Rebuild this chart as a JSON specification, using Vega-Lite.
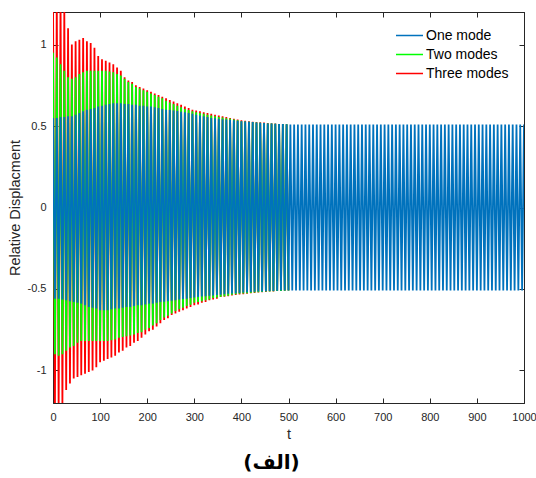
{
"$schema":"https://vega.github.io/schema/vega-lite/v6.json",
"width":471,"height":391,
"autosize":"none",
"padding":{"left":53,"top":12,"right":12,"bottom":75},
"background":"white",
"config":{"font":"Liberation Sans","view":{"stroke":"#262626","strokeWidth":1},
"axis":{"grid":false,"domainColor":"#262626","tickColor":"#262626","tickSize":-5,"labelPadding":12,"labelColor":"#262626","labelFontSize":11,"labelFont":"Liberation Sans","labelFlush":false,"labelOverlap":false,"titleColor":"#262626","titleFontSize":14.5,"titleFontWeight":"normal","titleFont":"Liberation Sans"}},
"title":{"text":"(الف)","orient":"bottom","font":"DejaVu Sans","fontSize":20,"fontWeight":"bold","color":"black","offset":12,"anchor":"middle","dx":-17},
"datasets":{"d":[
{"s":"Three modes","t":0,"y":1.3},{"s":"Three modes","t":4,"y":-1.3},{"s":"Three modes","t":8,"y":1.28},{"s":"Three modes","t":12,"y":-1.25},{"s":"Three modes","t":16,"y":1.3},{"s":"Three modes","t":20,"y":-1.22},{"s":"Three modes","t":24,"y":1.22},{"s":"Three modes","t":28,"y":-1.12},{"s":"Three modes","t":32,"y":1.1},{"s":"Three modes","t":36,"y":-1.08},{"s":"Three modes","t":40,"y":1.0},{"s":"Three modes","t":44,"y":-1.05},{"s":"Three modes","t":48,"y":1.02},{"s":"Three modes","t":52,"y":-1.04},{"s":"Three modes","t":56,"y":1.03},{"s":"Three modes","t":60,"y":-1.03},{"s":"Three modes","t":64,"y":1.04},{"s":"Three modes","t":68,"y":-1.02},{"s":"Three modes","t":72,"y":1.02},{"s":"Three modes","t":76,"y":-1.01},{"s":"Three modes","t":80,"y":1.01},{"s":"Three modes","t":84,"y":-1.0},{"s":"Three modes","t":88,"y":0.98},{"s":"Three modes","t":92,"y":-0.98},{"s":"Three modes","t":96,"y":0.93},{"s":"Three modes","t":100,"y":-0.95},{"s":"Three modes","t":104,"y":0.91},{"s":"Three modes","t":108,"y":-0.94},{"s":"Three modes","t":112,"y":0.9},{"s":"Three modes","t":116,"y":-0.93},{"s":"Three modes","t":120,"y":0.89},{"s":"Three modes","t":124,"y":-0.92},{"s":"Three modes","t":128,"y":0.88},{"s":"Three modes","t":132,"y":-0.91},{"s":"Three modes","t":136,"y":0.86},{"s":"Three modes","t":140,"y":-0.89},{"s":"Three modes","t":144,"y":0.84},{"s":"Three modes","t":148,"y":-0.88},{"s":"Three modes","t":152,"y":0.8},{"s":"Three modes","t":156,"y":-0.86},{"s":"Three modes","t":160,"y":0.78},{"s":"Three modes","t":164,"y":-0.85},{"s":"Three modes","t":168,"y":0.77},{"s":"Three modes","t":172,"y":-0.83},{"s":"Three modes","t":176,"y":0.75},{"s":"Three modes","t":180,"y":-0.82},{"s":"Three modes","t":184,"y":0.74},{"s":"Three modes","t":188,"y":-0.8},{"s":"Three modes","t":192,"y":0.73},{"s":"Three modes","t":196,"y":-0.78},{"s":"Three modes","t":200,"y":0.72},{"s":"Three modes","t":204,"y":-0.76},{"s":"Three modes","t":208,"y":0.71},{"s":"Three modes","t":212,"y":-0.75},{"s":"Three modes","t":216,"y":0.7},{"s":"Three modes","t":220,"y":-0.73},{"s":"Three modes","t":224,"y":0.69},{"s":"Three modes","t":228,"y":-0.71},{"s":"Three modes","t":232,"y":0.68},{"s":"Three modes","t":236,"y":-0.69},{"s":"Three modes","t":240,"y":0.67},{"s":"Three modes","t":244,"y":-0.68},{"s":"Three modes","t":248,"y":0.66},{"s":"Three modes","t":252,"y":-0.66},{"s":"Three modes","t":256,"y":0.65},{"s":"Three modes","t":260,"y":-0.65},{"s":"Three modes","t":264,"y":0.64},{"s":"Three modes","t":268,"y":-0.64},{"s":"Three modes","t":272,"y":0.63},{"s":"Three modes","t":276,"y":-0.63},{"s":"Three modes","t":280,"y":0.62},{"s":"Three modes","t":284,"y":-0.62},{"s":"Three modes","t":288,"y":0.61},{"s":"Three modes","t":292,"y":-0.61},{"s":"Three modes","t":296,"y":0.6},{"s":"Three modes","t":300,"y":-0.6},{"s":"Three modes","t":304,"y":0.595},{"s":"Three modes","t":308,"y":-0.595},{"s":"Three modes","t":312,"y":0.59},{"s":"Three modes","t":316,"y":-0.585},{"s":"Three modes","t":320,"y":0.585},{"s":"Three modes","t":324,"y":-0.58},{"s":"Three modes","t":328,"y":0.58},{"s":"Three modes","t":332,"y":-0.57},{"s":"Three modes","t":336,"y":0.575},{"s":"Three modes","t":340,"y":-0.565},{"s":"Three modes","t":344,"y":0.57},{"s":"Three modes","t":348,"y":-0.56},{"s":"Three modes","t":352,"y":0.565},{"s":"Three modes","t":356,"y":-0.55},{"s":"Three modes","t":360,"y":0.56},{"s":"Three modes","t":364,"y":-0.548},{"s":"Three modes","t":368,"y":0.555},{"s":"Three modes","t":372,"y":-0.545},{"s":"Three modes","t":376,"y":0.55},{"s":"Three modes","t":380,"y":-0.54},{"s":"Three modes","t":384,"y":0.545},{"s":"Three modes","t":388,"y":-0.537},{"s":"Three modes","t":392,"y":0.54},{"s":"Three modes","t":396,"y":-0.534},{"s":"Three modes","t":400,"y":0.535},{"s":"Three modes","t":404,"y":-0.532},{"s":"Three modes","t":408,"y":0.532},{"s":"Three modes","t":412,"y":-0.53},{"s":"Three modes","t":416,"y":0.53},{"s":"Three modes","t":420,"y":-0.527},{"s":"Three modes","t":424,"y":0.527},{"s":"Three modes","t":428,"y":-0.525},{"s":"Three modes","t":432,"y":0.525},{"s":"Three modes","t":436,"y":-0.522},{"s":"Three modes","t":440,"y":0.523},{"s":"Three modes","t":444,"y":-0.52},{"s":"Three modes","t":448,"y":0.521},{"s":"Three modes","t":452,"y":-0.518},{"s":"Three modes","t":456,"y":0.519},{"s":"Three modes","t":460,"y":-0.516},{"s":"Three modes","t":464,"y":0.517},{"s":"Three modes","t":468,"y":-0.515},{"s":"Three modes","t":472,"y":0.515},{"s":"Three modes","t":476,"y":-0.513},{"s":"Three modes","t":480,"y":0.513},{"s":"Three modes","t":484,"y":-0.512},{"s":"Three modes","t":488,"y":0.512},{"s":"Three modes","t":492,"y":-0.511},{"s":"Three modes","t":496,"y":0.511},{"s":"Three modes","t":500,"y":-0.51},
{"s":"Two modes","t":0,"y":0.95},{"s":"Two modes","t":4,"y":-0.9},{"s":"Two modes","t":8,"y":0.92},{"s":"Two modes","t":12,"y":-0.91},{"s":"Two modes","t":16,"y":0.88},{"s":"Two modes","t":20,"y":-0.9},{"s":"Two modes","t":24,"y":0.84},{"s":"Two modes","t":28,"y":-0.88},{"s":"Two modes","t":32,"y":0.8},{"s":"Two modes","t":36,"y":-0.86},{"s":"Two modes","t":40,"y":0.79},{"s":"Two modes","t":44,"y":-0.85},{"s":"Two modes","t":48,"y":0.8},{"s":"Two modes","t":52,"y":-0.83},{"s":"Two modes","t":56,"y":0.82},{"s":"Two modes","t":60,"y":-0.82},{"s":"Two modes","t":64,"y":0.83},{"s":"Two modes","t":68,"y":-0.82},{"s":"Two modes","t":72,"y":0.84},{"s":"Two modes","t":76,"y":-0.82},{"s":"Two modes","t":80,"y":0.84},{"s":"Two modes","t":84,"y":-0.82},{"s":"Two modes","t":88,"y":0.84},{"s":"Two modes","t":92,"y":-0.82},{"s":"Two modes","t":96,"y":0.84},{"s":"Two modes","t":100,"y":-0.82},{"s":"Two modes","t":104,"y":0.84},{"s":"Two modes","t":108,"y":-0.82},{"s":"Two modes","t":112,"y":0.84},{"s":"Two modes","t":116,"y":-0.82},{"s":"Two modes","t":120,"y":0.835},{"s":"Two modes","t":124,"y":-0.815},{"s":"Two modes","t":128,"y":0.83},{"s":"Two modes","t":132,"y":-0.81},{"s":"Two modes","t":136,"y":0.82},{"s":"Two modes","t":140,"y":-0.8},{"s":"Two modes","t":144,"y":0.81},{"s":"Two modes","t":148,"y":-0.795},{"s":"Two modes","t":152,"y":0.79},{"s":"Two modes","t":156,"y":-0.79},{"s":"Two modes","t":160,"y":0.77},{"s":"Two modes","t":164,"y":-0.785},{"s":"Two modes","t":168,"y":0.76},{"s":"Two modes","t":172,"y":-0.78},{"s":"Two modes","t":176,"y":0.74},{"s":"Two modes","t":180,"y":-0.77},{"s":"Two modes","t":184,"y":0.73},{"s":"Two modes","t":188,"y":-0.765},{"s":"Two modes","t":192,"y":0.72},{"s":"Two modes","t":196,"y":-0.75},{"s":"Two modes","t":200,"y":0.71},{"s":"Two modes","t":204,"y":-0.74},{"s":"Two modes","t":208,"y":0.7},{"s":"Two modes","t":212,"y":-0.725},{"s":"Two modes","t":216,"y":0.69},{"s":"Two modes","t":220,"y":-0.71},{"s":"Two modes","t":224,"y":0.68},{"s":"Two modes","t":228,"y":-0.69},{"s":"Two modes","t":232,"y":0.67},{"s":"Two modes","t":236,"y":-0.675},{"s":"Two modes","t":240,"y":0.655},{"s":"Two modes","t":244,"y":-0.665},{"s":"Two modes","t":248,"y":0.645},{"s":"Two modes","t":252,"y":-0.65},{"s":"Two modes","t":256,"y":0.635},{"s":"Two modes","t":260,"y":-0.635},{"s":"Two modes","t":264,"y":0.625},{"s":"Two modes","t":268,"y":-0.625},{"s":"Two modes","t":272,"y":0.615},{"s":"Two modes","t":276,"y":-0.615},{"s":"Two modes","t":280,"y":0.605},{"s":"Two modes","t":284,"y":-0.605},{"s":"Two modes","t":288,"y":0.598},{"s":"Two modes","t":292,"y":-0.597},{"s":"Two modes","t":296,"y":0.59},{"s":"Two modes","t":300,"y":-0.585},{"s":"Two modes","t":304,"y":0.585},{"s":"Two modes","t":308,"y":-0.58},{"s":"Two modes","t":312,"y":0.58},{"s":"Two modes","t":316,"y":-0.575},{"s":"Two modes","t":320,"y":0.575},{"s":"Two modes","t":324,"y":-0.57},{"s":"Two modes","t":328,"y":0.57},{"s":"Two modes","t":332,"y":-0.565},{"s":"Two modes","t":336,"y":0.565},{"s":"Two modes","t":340,"y":-0.555},{"s":"Two modes","t":344,"y":0.56},{"s":"Two modes","t":348,"y":-0.552},{"s":"Two modes","t":352,"y":0.555},{"s":"Two modes","t":356,"y":-0.548},{"s":"Two modes","t":360,"y":0.552},{"s":"Two modes","t":364,"y":-0.545},{"s":"Two modes","t":368,"y":0.548},{"s":"Two modes","t":372,"y":-0.542},{"s":"Two modes","t":376,"y":0.545},{"s":"Two modes","t":380,"y":-0.535},{"s":"Two modes","t":384,"y":0.54},{"s":"Two modes","t":388,"y":-0.532},{"s":"Two modes","t":392,"y":0.535},{"s":"Two modes","t":396,"y":-0.53},{"s":"Two modes","t":400,"y":0.53},{"s":"Two modes","t":404,"y":-0.528},{"s":"Two modes","t":408,"y":0.528},{"s":"Two modes","t":412,"y":-0.526},{"s":"Two modes","t":416,"y":0.526},{"s":"Two modes","t":420,"y":-0.524},{"s":"Two modes","t":424,"y":0.524},{"s":"Two modes","t":428,"y":-0.522},{"s":"Two modes","t":432,"y":0.522},{"s":"Two modes","t":436,"y":-0.52},{"s":"Two modes","t":440,"y":0.52},{"s":"Two modes","t":444,"y":-0.518},{"s":"Two modes","t":448,"y":0.518},{"s":"Two modes","t":452,"y":-0.516},{"s":"Two modes","t":456,"y":0.516},{"s":"Two modes","t":460,"y":-0.515},{"s":"Two modes","t":464,"y":0.515},{"s":"Two modes","t":468,"y":-0.514},{"s":"Two modes","t":472,"y":0.514},{"s":"Two modes","t":476,"y":-0.513},{"s":"Two modes","t":480,"y":0.513},{"s":"Two modes","t":484,"y":-0.512},{"s":"Two modes","t":488,"y":0.512},{"s":"Two modes","t":492,"y":-0.511},{"s":"Two modes","t":496,"y":0.511},{"s":"Two modes","t":500,"y":-0.51},
{"s":"One mode","t":0,"y":0.55},{"s":"One mode","t":4,"y":-0.56},{"s":"One mode","t":8,"y":0.55},{"s":"One mode","t":12,"y":-0.56},{"s":"One mode","t":16,"y":0.555},{"s":"One mode","t":20,"y":-0.565},{"s":"One mode","t":24,"y":0.555},{"s":"One mode","t":28,"y":-0.57},{"s":"One mode","t":32,"y":0.56},{"s":"One mode","t":36,"y":-0.575},{"s":"One mode","t":40,"y":0.56},{"s":"One mode","t":44,"y":-0.58},{"s":"One mode","t":48,"y":0.57},{"s":"One mode","t":52,"y":-0.585},{"s":"One mode","t":56,"y":0.58},{"s":"One mode","t":60,"y":-0.59},{"s":"One mode","t":64,"y":0.59},{"s":"One mode","t":68,"y":-0.6},{"s":"One mode","t":72,"y":0.6},{"s":"One mode","t":76,"y":-0.61},{"s":"One mode","t":80,"y":0.605},{"s":"One mode","t":84,"y":-0.615},{"s":"One mode","t":88,"y":0.61},{"s":"One mode","t":92,"y":-0.62},{"s":"One mode","t":96,"y":0.62},{"s":"One mode","t":100,"y":-0.63},{"s":"One mode","t":104,"y":0.625},{"s":"One mode","t":108,"y":-0.63},{"s":"One mode","t":112,"y":0.63},{"s":"One mode","t":116,"y":-0.63},{"s":"One mode","t":120,"y":0.635},{"s":"One mode","t":124,"y":-0.625},{"s":"One mode","t":128,"y":0.64},{"s":"One mode","t":132,"y":-0.62},{"s":"One mode","t":136,"y":0.64},{"s":"One mode","t":140,"y":-0.62},{"s":"One mode","t":144,"y":0.64},{"s":"One mode","t":148,"y":-0.615},{"s":"One mode","t":152,"y":0.635},{"s":"One mode","t":156,"y":-0.61},{"s":"One mode","t":160,"y":0.635},{"s":"One mode","t":164,"y":-0.61},{"s":"One mode","t":168,"y":0.63},{"s":"One mode","t":172,"y":-0.605},{"s":"One mode","t":176,"y":0.63},{"s":"One mode","t":180,"y":-0.6},{"s":"One mode","t":184,"y":0.625},{"s":"One mode","t":188,"y":-0.6},{"s":"One mode","t":192,"y":0.625},{"s":"One mode","t":196,"y":-0.595},{"s":"One mode","t":200,"y":0.62},{"s":"One mode","t":204,"y":-0.59},{"s":"One mode","t":208,"y":0.62},{"s":"One mode","t":212,"y":-0.59},{"s":"One mode","t":216,"y":0.615},{"s":"One mode","t":220,"y":-0.585},{"s":"One mode","t":224,"y":0.61},{"s":"One mode","t":228,"y":-0.58},{"s":"One mode","t":232,"y":0.605},{"s":"One mode","t":236,"y":-0.578},{"s":"One mode","t":240,"y":0.6},{"s":"One mode","t":244,"y":-0.575},{"s":"One mode","t":248,"y":0.598},{"s":"One mode","t":252,"y":-0.572},{"s":"One mode","t":256,"y":0.595},{"s":"One mode","t":260,"y":-0.57},{"s":"One mode","t":264,"y":0.592},{"s":"One mode","t":268,"y":-0.565},{"s":"One mode","t":272,"y":0.588},{"s":"One mode","t":276,"y":-0.562},{"s":"One mode","t":280,"y":0.585},{"s":"One mode","t":284,"y":-0.56},{"s":"One mode","t":288,"y":0.58},{"s":"One mode","t":292,"y":-0.556},{"s":"One mode","t":296,"y":0.575},{"s":"One mode","t":300,"y":-0.552},{"s":"One mode","t":304,"y":0.57},{"s":"One mode","t":308,"y":-0.55},{"s":"One mode","t":312,"y":0.565},{"s":"One mode","t":316,"y":-0.547},{"s":"One mode","t":320,"y":0.56},{"s":"One mode","t":324,"y":-0.545},{"s":"One mode","t":328,"y":0.555},{"s":"One mode","t":332,"y":-0.542},{"s":"One mode","t":336,"y":0.55},{"s":"One mode","t":340,"y":-0.54},{"s":"One mode","t":344,"y":0.548},{"s":"One mode","t":348,"y":-0.537},{"s":"One mode","t":352,"y":0.545},{"s":"One mode","t":356,"y":-0.535},{"s":"One mode","t":360,"y":0.542},{"s":"One mode","t":364,"y":-0.532},{"s":"One mode","t":368,"y":0.54},{"s":"One mode","t":372,"y":-0.53},{"s":"One mode","t":376,"y":0.537},{"s":"One mode","t":380,"y":-0.528},{"s":"One mode","t":384,"y":0.535},{"s":"One mode","t":388,"y":-0.526},{"s":"One mode","t":392,"y":0.533},{"s":"One mode","t":396,"y":-0.524},{"s":"One mode","t":400,"y":0.53},{"s":"One mode","t":404,"y":-0.522},{"s":"One mode","t":408,"y":0.528},{"s":"One mode","t":412,"y":-0.52},{"s":"One mode","t":416,"y":0.526},{"s":"One mode","t":420,"y":-0.518},{"s":"One mode","t":424,"y":0.524},{"s":"One mode","t":428,"y":-0.517},{"s":"One mode","t":432,"y":0.522},{"s":"One mode","t":436,"y":-0.516},{"s":"One mode","t":440,"y":0.52},{"s":"One mode","t":444,"y":-0.515},{"s":"One mode","t":448,"y":0.518},{"s":"One mode","t":452,"y":-0.514},{"s":"One mode","t":456,"y":0.516},{"s":"One mode","t":460,"y":-0.513},{"s":"One mode","t":464,"y":0.515},{"s":"One mode","t":468,"y":-0.512},{"s":"One mode","t":472,"y":0.514},{"s":"One mode","t":476,"y":-0.511},{"s":"One mode","t":480,"y":0.513},{"s":"One mode","t":484,"y":-0.51},{"s":"One mode","t":488,"y":0.512},{"s":"One mode","t":492,"y":-0.51},{"s":"One mode","t":496,"y":0.511},{"s":"One mode","t":500,"y":-0.51},
{"s":"One mode","t":504,"y":0.51},{"s":"One mode","t":508,"y":-0.51},{"s":"One mode","t":512,"y":0.51},{"s":"One mode","t":516,"y":-0.51},{"s":"One mode","t":520,"y":0.51},{"s":"One mode","t":524,"y":-0.51},{"s":"One mode","t":528,"y":0.51},{"s":"One mode","t":532,"y":-0.51},{"s":"One mode","t":536,"y":0.51},{"s":"One mode","t":540,"y":-0.51},{"s":"One mode","t":544,"y":0.51},{"s":"One mode","t":548,"y":-0.51},{"s":"One mode","t":552,"y":0.51},{"s":"One mode","t":556,"y":-0.51},{"s":"One mode","t":560,"y":0.51},{"s":"One mode","t":564,"y":-0.51},{"s":"One mode","t":568,"y":0.51},{"s":"One mode","t":572,"y":-0.51},{"s":"One mode","t":576,"y":0.51},{"s":"One mode","t":580,"y":-0.51},{"s":"One mode","t":584,"y":0.51},{"s":"One mode","t":588,"y":-0.51},{"s":"One mode","t":592,"y":0.51},{"s":"One mode","t":596,"y":-0.51},{"s":"One mode","t":600,"y":0.51},{"s":"One mode","t":604,"y":-0.51},{"s":"One mode","t":608,"y":0.51},{"s":"One mode","t":612,"y":-0.51},{"s":"One mode","t":616,"y":0.51},{"s":"One mode","t":620,"y":-0.51},{"s":"One mode","t":624,"y":0.51},{"s":"One mode","t":628,"y":-0.51},{"s":"One mode","t":632,"y":0.51},{"s":"One mode","t":636,"y":-0.51},{"s":"One mode","t":640,"y":0.51},{"s":"One mode","t":644,"y":-0.51},{"s":"One mode","t":648,"y":0.51},{"s":"One mode","t":652,"y":-0.51},{"s":"One mode","t":656,"y":0.51},{"s":"One mode","t":660,"y":-0.51},{"s":"One mode","t":664,"y":0.51},{"s":"One mode","t":668,"y":-0.51},{"s":"One mode","t":672,"y":0.51},{"s":"One mode","t":676,"y":-0.51},{"s":"One mode","t":680,"y":0.51},{"s":"One mode","t":684,"y":-0.51},{"s":"One mode","t":688,"y":0.51},{"s":"One mode","t":692,"y":-0.51},{"s":"One mode","t":696,"y":0.51},{"s":"One mode","t":700,"y":-0.51},{"s":"One mode","t":704,"y":0.51},{"s":"One mode","t":708,"y":-0.51},{"s":"One mode","t":712,"y":0.51},{"s":"One mode","t":716,"y":-0.51},{"s":"One mode","t":720,"y":0.51},{"s":"One mode","t":724,"y":-0.51},{"s":"One mode","t":728,"y":0.51},{"s":"One mode","t":732,"y":-0.51},{"s":"One mode","t":736,"y":0.51},{"s":"One mode","t":740,"y":-0.51},{"s":"One mode","t":744,"y":0.51},{"s":"One mode","t":748,"y":-0.51},{"s":"One mode","t":752,"y":0.51},{"s":"One mode","t":756,"y":-0.51},{"s":"One mode","t":760,"y":0.51},{"s":"One mode","t":764,"y":-0.51},{"s":"One mode","t":768,"y":0.51},{"s":"One mode","t":772,"y":-0.51},{"s":"One mode","t":776,"y":0.51},{"s":"One mode","t":780,"y":-0.51},{"s":"One mode","t":784,"y":0.51},{"s":"One mode","t":788,"y":-0.51},{"s":"One mode","t":792,"y":0.51},{"s":"One mode","t":796,"y":-0.51},{"s":"One mode","t":800,"y":0.51},{"s":"One mode","t":804,"y":-0.51},{"s":"One mode","t":808,"y":0.51},{"s":"One mode","t":812,"y":-0.51},{"s":"One mode","t":816,"y":0.51},{"s":"One mode","t":820,"y":-0.51},{"s":"One mode","t":824,"y":0.51},{"s":"One mode","t":828,"y":-0.51},{"s":"One mode","t":832,"y":0.51},{"s":"One mode","t":836,"y":-0.51},{"s":"One mode","t":840,"y":0.51},{"s":"One mode","t":844,"y":-0.51},{"s":"One mode","t":848,"y":0.51},{"s":"One mode","t":852,"y":-0.51},{"s":"One mode","t":856,"y":0.51},{"s":"One mode","t":860,"y":-0.51},{"s":"One mode","t":864,"y":0.51},{"s":"One mode","t":868,"y":-0.51},{"s":"One mode","t":872,"y":0.51},{"s":"One mode","t":876,"y":-0.51},{"s":"One mode","t":880,"y":0.51},{"s":"One mode","t":884,"y":-0.51},{"s":"One mode","t":888,"y":0.51},{"s":"One mode","t":892,"y":-0.51},{"s":"One mode","t":896,"y":0.51},{"s":"One mode","t":900,"y":-0.51},{"s":"One mode","t":904,"y":0.51},{"s":"One mode","t":908,"y":-0.51},{"s":"One mode","t":912,"y":0.51},{"s":"One mode","t":916,"y":-0.51},{"s":"One mode","t":920,"y":0.51},{"s":"One mode","t":924,"y":-0.51},{"s":"One mode","t":928,"y":0.51},{"s":"One mode","t":932,"y":-0.51},{"s":"One mode","t":936,"y":0.51},{"s":"One mode","t":940,"y":-0.51},{"s":"One mode","t":944,"y":0.51},{"s":"One mode","t":948,"y":-0.51},{"s":"One mode","t":952,"y":0.51},{"s":"One mode","t":956,"y":-0.51},{"s":"One mode","t":960,"y":0.51},{"s":"One mode","t":964,"y":-0.51},{"s":"One mode","t":968,"y":0.51},{"s":"One mode","t":972,"y":-0.51},{"s":"One mode","t":976,"y":0.51},{"s":"One mode","t":980,"y":-0.51},{"s":"One mode","t":984,"y":0.51},{"s":"One mode","t":988,"y":-0.51},{"s":"One mode","t":992,"y":0.51},{"s":"One mode","t":996,"y":-0.51},{"s":"One mode","t":1000,"y":0.51}
]},
"data":{"name":"d"},
"layer":[
{"transform":[{"filter":"datum.s === 'Three modes'"}],
"mark":{"type":"line","clip":true,"strokeWidth":1.8},
"encoding":{
"x":{"field":"t","type":"quantitative","scale":{"domain":[0,1000],"nice":false,"zero":false},"axis":{"orient":"bottom","values":[0,100,200,300,400,500,600,700,800,900,1000],"labelExpr":"'' + datum.value","title":"t","titlePadding":5,"labelPadding":13}},
"y":{"field":"y","type":"quantitative","scale":{"domain":[-1.2,1.2],"nice":false,"zero":false},"axis":{"orient":"left","values":[-1,-0.5,0,0.5,1],"labelExpr":"'' + datum.value","title":"Relative Displacment","titlePadding":5}},
"color":{"field":"s","type":"nominal","scale":{"domain":["One mode","Two modes","Three modes"],"range":["#0072BD","#00FF00","#FF0000"]},
"legend":{"orient":"none","legendX":342,"legendY":14,"title":null,"symbolType":"M-1,0H1","symbolSize":729,"symbolStrokeWidth":1.5,"labelFontSize":14,"labelColor":"black","labelFont":"Liberation Sans","rowPadding":0,"clipHeight":19,"labelOffset":2}}}},
{"transform":[{"filter":"datum.s === 'Two modes'"}],
"mark":{"type":"line","clip":true,"strokeWidth":1.8},
"encoding":{
"x":{"field":"t","type":"quantitative","axis":{"orient":"top","values":[0,100,200,300,400,500,600,700,800,900,1000],"labels":false,"title":null}},
"y":{"field":"y","type":"quantitative","axis":{"orient":"right","values":[-1,-0.5,0,0.5,1],"labels":false,"title":null}},
"color":{"field":"s","type":"nominal"}}},
{"transform":[{"filter":"datum.s === 'One mode'"}],
"mark":{"type":"line","clip":true,"strokeWidth":1.8},
"encoding":{
"x":{"field":"t","type":"quantitative","axis":null},
"y":{"field":"y","type":"quantitative","axis":null},
"color":{"field":"s","type":"nominal"}}}
],
"resolve":{"axis":{"x":"independent","y":"independent"}}
}
